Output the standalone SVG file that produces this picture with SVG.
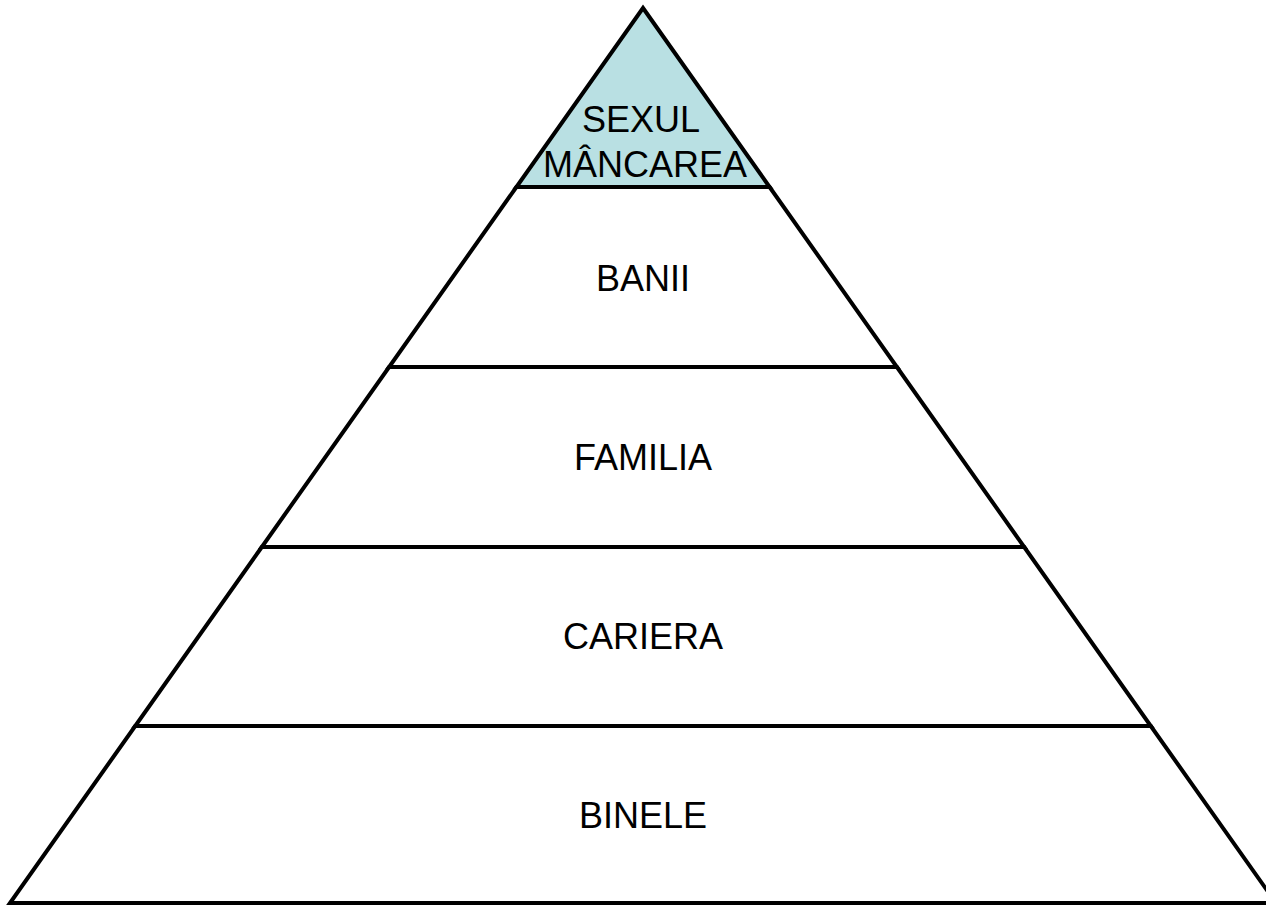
<svg xmlns="http://www.w3.org/2000/svg" width="1266" height="906" viewBox="0 0 1266 906">
<style>
.tier{stroke:#000;stroke-width:4;stroke-linejoin:miter}
.lbl{font-family:"Liberation Sans",Arial,sans-serif;font-size:36px;fill:#000;text-anchor:middle}
</style>
<rect x="0" y="0" width="1266" height="906" fill="#fff"/>
<g id="tier-binele">
<polygon class="tier" fill="#fff" points="135.2,726 1150.8,726 1276,903 10,903"/>
<text class="lbl" x="643" y="828">BINELE</text>
</g>
<g id="tier-cariera">
<polygon class="tier" fill="#fff" points="261.8,547 1024.2,547 1150.8,726 135.2,726"/>
<text class="lbl" x="643" y="649">CARIERA</text>
</g>
<g id="tier-familia">
<polygon class="tier" fill="#fff" points="389.1,367 896.9,367 1024.2,547 261.8,547"/>
<text class="lbl" x="643" y="470">FAMILIA</text>
</g>
<g id="tier-banii">
<polygon class="tier" fill="#fff" points="516.4,187 769.6,187 896.9,367 389.1,367"/>
<text class="lbl" x="643" y="291">BANII</text>
</g>
<g id="tier-top">
<polygon class="tier" fill="#B9E0E3" points="643,8 769.6,187 516.4,187"/>
<text class="lbl" x="641" y="132">SEXUL</text>
<text class="lbl" x="645" y="177">MÂNCAREA</text>
</g>
<g id="connectors"/>
</svg>
